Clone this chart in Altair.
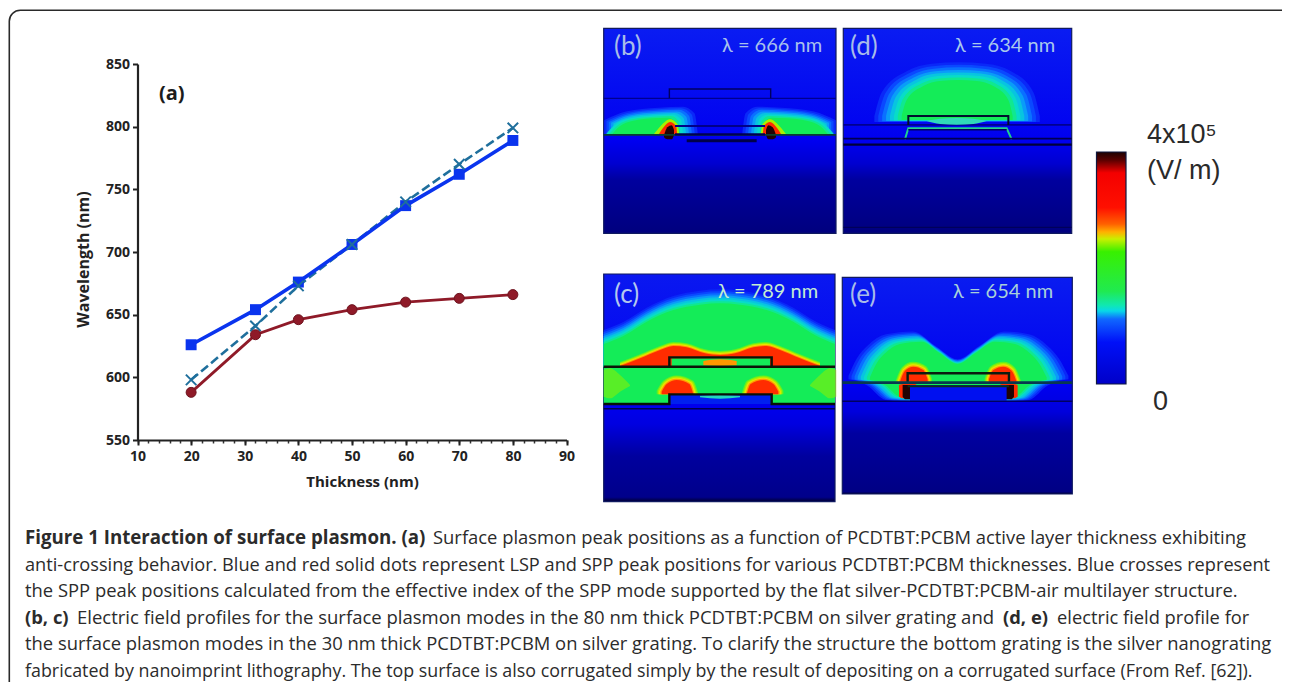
import altair as alt
import pandas as pd

# ---------- panel (a) values ----------
thick_lsp = [20, 32, 40, 50, 60, 70, 80]
lsp = [626, 654, 676, 706, 737, 762, 789]
spp = [588, 634, 646, 654, 660, 663, 666]
calc = [598, 641, 673, 706, 740, 770, 799]
x_major = [10, 20, 30, 40, 50, 60, 70, 80, 90]
x_minor = list(range(10, 91, 2))
y_major = [550, 600, 650, 700, 750, 800, 850]

# ---------- caption: (x, text, bold, font size) ----------
cap_lines = [
    [(25, "Figure 1 Interaction of surface plasmon. (a)", True, 18.7),
     (433, "Surface plasmon peak positions as a function of PCDTBT:PCBM active layer thickness exhibiting", False, 18.4)],
    [(25, "anti-crossing behavior. Blue and red solid dots represent LSP and SPP peak positions for various PCDTBT:PCBM thicknesses. Blue crosses represent", False, 18.2)],
    [(25, "the SPP peak positions calculated from the effective index of the SPP mode supported by the flat silver-PCDTBT:PCBM-air multilayer structure.", False, 18.4)],
    [(25, "(b, c)", True, 18.4),
     (77, "Electric field profiles for the surface plasmon modes in the 80 nm thick PCDTBT:PCBM on silver grating and", False, 18.5),
     (1003, "(d, e)", True, 18.4), (1057, "electric field profile for", False, 18.3)],
    [(25, "the surface plasmon modes in the 30 nm thick PCDTBT:PCBM on silver grating. To clarify the structure the bottom grating is the silver nanograting", False, 18.4)],
    [(25, "fabricated by nanoimprint lithography. The top surface is also corrugated simply by the result of depositing on a corrugated surface (From Ref. [62]).", False, 17.85)],
]
cap_baselines = [544, 570.6, 597.2, 623.8, 650.4, 677]

# ---------- colours ----------
CYAN, GREEN, LIME, ORANGE, RED, DARK = "#08dcc8", "#14ec58", "#a8f000", "#ff9800", "#ff2c00", "#200404"
COOL = ["#0a28f8", "#0a48ff", "#0a70ff", "#0a9cf8", "#08c4e0", CYAN, "#10e890", GREEN]
HOT = ["#60f020", LIME, "#f0e000", ORANGE, RED]

# crop-to-page mapping of the four field panels: (zoom x0, x1, page x0, x1, zoom y0, y1, page y0, y1)
PANELS = {
    "b": (41, 738, 603.7, 836, 25, 640, 28.3, 233.3),
    "c": (41, 735, 603.7, 835, 42, 725, 274, 501.7),
    "d": (10, 695, 843.3, 1071.7, 25, 640, 28.3, 233.3),
    "e": (22, 712, 842.3, 1072.3, 22, 672, 277.3, 494),
}
MIRROR = {"b": 390, "c": 390, "d": 355, "e": 370}


def X(p, f="x:Q"):
    a, b, c, d, *_ = PANELS[p]
    return alt.X(f, scale=alt.Scale(domain=[a, b], range=[c - 8, d - 8], nice=False, zero=False), axis=None)


def Y(p, f="y:Q"):
    *_, a, b, c, d = PANELS[p]
    return alt.Y(f, scale=alt.Scale(domain=[a, b], range=[c - 8, d - 8], nice=False, zero=False), axis=None)


def grad(stops):
    return alt.Gradient(gradient="linear", x1=0, x2=0, y1=0, y2=1,
                        stops=[alt.GradientStop(offset=o, color=c) for o, c in stops])


def blob(p, xs, tops, bots, color, opacity=1.0, both=True):
    layers = []
    sets = [(xs, tops, bots)]
    if both:
        m = MIRROR[p]
        sets.append(([2 * m - v for v in xs][::-1], tops[::-1], bots[::-1]))
    for a, t, b in sets:
        df = pd.DataFrame({"x": a, "y": t, "b": b})
        layers.append(alt.Chart(df).mark_area(color=color, opacity=opacity, interpolate="monotone").encode(
            x=X(p), y=Y(p), y2="b:Q"))
    return layers


def soft(p, xs, tops, bots, colors, cx=None, base=None, grow=0.0, off=0.0, both=True):
    out = []
    a, b, *_ = PANELS[p]
    n = len(colors)
    for i, col in enumerate(colors):
        k = n - 1 - i
        f = 1 + grow * k
        xx, tt, bb = [], [], []
        for x, t, bo in zip(xs, tops, bots):
            nx = x if cx is None else cx + (x - cx) * f
            if a <= nx <= b:
                xx.append(nx)
                tt.append((t if base is None else base + (t - base) * f) - off * k)
                bb.append(bo if base is None else base + (bo - base) * f)
        out += blob(p, xx, tt, bb, col, both=both)
    return out


def seg(p, xs, ys, color, w=1.5, opacity=1.0):
    df = pd.DataFrame({"x": xs, "y": ys})
    return [alt.Chart(df).mark_line(color=color, strokeWidth=w, opacity=opacity, interpolate="linear").encode(
        x=X(p), y=Y(p))]


def background(p, stops):
    a, b, _, _, c, d, _, _ = PANELS[p]
    df = pd.DataFrame({"x": [a], "x2": [b], "y": [c], "y2": [d]})
    return [alt.Chart(df).mark_rect(fill=grad(stops), stroke="#101a60", strokeWidth=1.2).encode(
        x=X(p), x2="x2:Q", y=Y(p), y2="y2:Q")]


def label(px, py, s, size, color="#222222", weight="normal", font="Open Sans", align="left", opacity=1.0):
    return [alt.Chart(pd.DataFrame({"a": [0]})).mark_text(
        text=s, fontSize=size, fontWeight=weight, font=font, color=color, align=align,
        baseline="alphabetic", opacity=opacity).encode(x=alt.value(px - 8), y=alt.value(py - 8))]


layers = []

# frame
layers.append(alt.Chart(pd.DataFrame({"a": [0]})).mark_rect(
    fill="transparent", stroke="#2a2a2a", strokeWidth=1.6, cornerRadius=11).encode(
    x=alt.value(1.3), x2=alt.value(1287), y=alt.value(2.3), y2=alt.value(760)))

# ---------- panel (a) ----------
sx = alt.Scale(domain=[10, 90], range=[129.5, 558.5], nice=False, zero=False)
sy = alt.Scale(domain=[550, 850], range=[432, 56], nice=False, zero=False)
df_a = pd.DataFrame({"t": thick_lsp, "lsp": lsp, "spp": spp, "calc": calc})
AF = "Open Sans"
OFF_X = -(674 - 432)
ax_x = alt.Axis(orient="bottom", values=x_major, offset=OFF_X, title="Thickness (nm)", format="d", grid=False, labelFont=AF,
                labelFontSize=14, labelFontWeight="bold", labelColor="#222", titleFont=AF, titleFontSize=15,
                titleFontWeight="bold", titleColor="#222", domainColor="#222", domainWidth=2.2, tickColor="#222",
                tickWidth=2, tickSize=5, labelPadding=4, titlePadding=11, labelOverlap=False, labelFlush=False, titleX=354)
ax_x2 = alt.Axis(orient="bottom", values=x_minor, offset=OFF_X, title=None, labels=False, domain=False, grid=False,
                 tickColor="#333", tickWidth=1.5, tickSize=3)
ax_y = alt.Axis(orient="left", values=y_major, offset=-129.5, title="Wavelength (nm)", format="d", grid=False, labelFont=AF,
                labelFontSize=14, labelFontWeight="bold", labelColor="#222", titleFont=AF, titleFontSize=16,
                titleFontWeight="bold", titleColor="#222", domainColor="#222", domainWidth=2.2, tickColor="#222",
                tickWidth=2, tickSize=5, labelPadding=3, titlePadding=14, labelOverlap=False, titleY=251)
BLUE, TEAL, MAROON = "#0a34ee", "#1f6f9c", "#8f1a28"
base = alt.Chart(df_a)
T = lambda ax=None: alt.X("t:Q", scale=sx, axis=ax)
V = lambda f, ax=None: alt.Y(f + ":Q", scale=sy, axis=ax)
layers += [
    base.mark_line(color=TEAL, strokeWidth=2.6, strokeDash=[9, 4]).encode(x=T(ax_x2), y=V("calc")),
    base.mark_line(color=BLUE, strokeWidth=3.6).encode(x=T(ax_x), y=V("lsp", ax_y)),
    base.mark_square(color=BLUE, size=120, opacity=1).encode(x=T(), y=V("lsp")),
    base.mark_point(shape="M-1,-1L1,1M-1,1L1,-1", stroke=TEAL, strokeWidth=2, size=110, opacity=1).encode(x=T(), y=V("calc")),
    base.mark_line(color=MAROON, strokeWidth=2.8).encode(x=T(), y=V("spp")),
    base.mark_circle(color=MAROON, size=100, opacity=1, stroke="#6e1520", strokeWidth=1).encode(x=T(), y=V("spp")),
]
layers += label(159, 100, "(a)", 20, weight="bold", color="#1c1c1c")

# ---------- panel (b) ----------
BG = [(0, "#0a1cf2"), (0.55, "#0000f0"), (0.66, "#0000d0"), (0.74, "#00009e"), (1, "#00007e")]
layers += background("b", BG)
b_x = [66, 90, 130, 190, 235, 256, 262]
b_t = [343, 318, 302, 295, 293, 305, 343]
layers += soft("b", b_x, b_t, [345] * 7, COOL, cx=165, base=345, grow=0.09)
layers += blob("b", [190, 212, 240, 262, 268], [345, 318, 298, 312, 345], [345] * 5, LIME)
layers += blob("b", [205, 222, 240, 258, 262], [345, 320, 306, 318, 345], [345] * 5, RED)
layers += blob("b", [222, 232, 245, 252], [345, 322, 316, 330], [352, 358, 358, 345], DARK)
layers += seg("b", [41, 738], [345, 345], "#084030", 1.8)
layers += seg("b", [41, 738], [235, 235], "#000090", 1.3)
layers += seg("b", [238, 238, 542, 542], [235, 207, 207, 235], "#000060", 1.4)
layers += seg("b", [255, 525], [318, 318], "#000088", 2)
layers += seg("b", [255, 525], [343, 343], "#000050", 2.2)
layers += seg("b", [290, 500], [362, 362], "#00004a", 3)
layers += label(614, 55, "(b)", 26, color="#a8bce8", font="Lato")
layers += label(722, 52, "\u03bb  =  666  nm", 20, color="#a8c0ec", font="Lato")

# ---------- panel (d) ----------
layers += background("d", BG)
layers += soft("d", [185, 200, 250, 300, 355, 410, 460, 505, 518],
               [288, 240, 198, 183, 180, 183, 198, 240, 288], [300] * 9, COOL, cx=352, base=288, grow=0.07, both=False)
layers += seg("d", [10, 695], [315, 315], "#000090", 1.8)
layers += blob("d", [260, 300, 350, 400, 440], [303, 296, 294, 296, 303], [303, 312, 314, 312, 303], "#30d8b8", both=False)
layers += seg("d", [205, 205, 505, 505], [315, 288, 288, 315], "#00102c", 2)
layers += seg("d", [195, 205, 500, 515], [358, 325, 325, 358], "#20d090", 2)
layers += seg("d", [205, 500], [329, 329], "#000060", 1.5)
layers += seg("d", [10, 695], [356, 356], "#000050", 1.6)
layers += seg("d", [10, 695], [374, 374], "#000038", 2.2)
layers += seg("d", [10, 695], [622, 622], "#000050", 1)
layers += label(850, 55, "(d)", 26, color="#a8bce8", font="Lato")
layers += label(955, 52, "\u03bb  =  634  nm", 20, color="#a8c8ec", font="Lato")

# ---------- panel (c) ----------
BGC = [(0, "#0a18f0"), (0.55, "#0000f2"), (0.66, "#0000e0"), (0.8, "#00009e"), (0.98, "#00008a"), (1, "#000030")]
layers += background("c", BGC)
cx = [41, 100, 170, 250, 330, 390, 450, 530, 610, 680, 735]
layers += soft("c", cx, [252, 228, 185, 150, 134, 130, 134, 150, 185, 228, 252], [320] * 11, COOL, off=6, both=False)
layers += soft("c", [90, 150, 210, 250, 290, 345, 390, 435, 490, 530, 570, 630, 690],
               [318, 295, 270, 258, 262, 280, 285, 280, 262, 258, 270, 295, 318], [320] * 13, HOT, off=3, both=False)
layers += blob("c", [41, 735], [320, 320], [432, 432], GREEN, both=False)
layers += blob("c", [41, 60, 90, 120], [330, 325, 345, 375], [410, 415, 395, 378], "#90f000", 0.55)
layers += blob("c", [245, 540], [295, 295], [318, 318], GREEN, both=False)
layers += blob("c", [340, 390, 440], [303, 298, 303], [316, 318, 316], ORANGE, both=False)
layers += soft("c", [215, 230, 260, 298, 310], [395, 372, 360, 372, 403], [403] * 5, HOT, cx=262, base=403, grow=0.08)
layers += blob("c", [238, 545], [405, 405], [432, 432], "#0020f0", both=False)
layers += blob("c", [330, 390, 450], [407, 405, 407], [412, 416, 412], "#20d8c0", both=False)
layers += seg("c", [41, 735], [320, 320], "#0c1408", 2.4)
layers += seg("c", [238, 238, 545, 545], [320, 292, 292, 320], "#0c1408", 2.4)
layers += seg("c", [41, 238, 238, 545, 545, 735], [432, 432, 403, 403, 432, 432], "#081008", 2.4)
layers += seg("c", [41, 735], [446, 446], "#000050", 1.6)
layers += label(614, 303, "(c)", 26, color="#b4c8ee", font="Lato")
layers += label(718, 298, "\u03bb  =  789  nm", 20, color="#c4ecd0", font="Lato")

# ---------- panel (e) ----------
BGE = [(0, "#0a1cf0"), (0.5, "#0000f0"), (0.62, "#0000dc"), (0.72, "#0000a0"), (0.99, "#000084"), (1, "#000030")]
layers += background("e", BGE)
layers += soft("e", [105, 125, 150, 195, 260, 315, 368, 420, 480, 540, 585, 612, 635],
               [322, 280, 250, 222, 215, 250, 282, 250, 215, 222, 250, 280, 322],
               [330, 334, 345, 380, 385, 385, 385, 385, 385, 380, 345, 334, 330], COOL, cx=368, base=340, grow=0.035, both=False)
layers += soft("e", [195, 210, 235, 265, 278], [335, 302, 290, 300, 328], [335] * 5, HOT, cx=238, base=335, grow=0.08)
layers += blob("e", [192, 205, 240, 245], [345, 342, 342, 345], [380, 385, 385, 380], RED)
layers += blob("e", [203, 212, 235], [345, 345, 345], [380, 388, 388], DARK)
layers += blob("e", [225, 515], [345, 345], [392, 392], "#0010f0", both=False)
layers += seg("e", [218, 218, 522, 522], [338, 310, 310, 338], "#0c1c10", 2.4)
layers += seg("e", [22, 712], [338, 338], "#083850", 2.6)
layers += seg("e", [218, 522], [349, 349], "#0a3018", 2)
layers += seg("e", [22, 712], [394, 394], "#000060", 1.5)
layers += label(850, 303, "(e)", 26, color="#a8bce8", font="Lato")
layers += label(953, 298, "\u03bb  =  654  nm", 20, color="#a8d0d8", font="Lato")

# ---------- colour bar ----------
cbar_lo, cbar_hi = [0], [4]
CB = [(0, "#1c0202"), (0.035, "#5a0000"), (0.09, "#f40000"), (0.24, "#ff1000"), (0.31, "#ff6000"), (0.345, "#ffb000"),
      (0.375, "#c8f000"), (0.43, "#38f000"), (0.6, "#20ea50"), (0.66, "#10e8b0"), (0.685, "#08d8e8"), (0.72, "#1068ff"),
      (0.82, "#0010f8"), (1, "#0000c8")]
layers.append(alt.Chart(pd.DataFrame({"lo": cbar_lo, "hi": cbar_hi})).mark_rect(
    fill=grad(CB), stroke="#101840", strokeWidth=1.2).encode(
    x=alt.value(1096.5 - 8), x2=alt.value(1126 - 8),
    y=alt.Y("hi:Q", scale=alt.Scale(domain=[0, 4], range=[384 - 8, 152 - 8], nice=False, zero=False), axis=None),
    y2="lo:Q"))
LF = "Liberation Sans"
layers += label(1147, 143, "4x10\u2075", 27, color="#2a2a2a", font=LF)
layers += label(1147, 179, "(V/ m)", 27, color="#2a2a2a", font=LF)
layers += label(1153, 410, "0", 27, color="#2a2a2a", font=LF)

# ---------- caption ----------
for runs, yb in zip(cap_lines, cap_baselines):
    for x0, s, bold, size in runs:
        layers += label(x0, yb, s, size, color="#2b2b2b", weight="bold" if bold else "normal", font="Open Sans")

chart = (alt.layer(*layers)
         .resolve_scale(x="independent", y="independent")
         .properties(width=1274, height=674, padding=0, background="white",
                     autosize=alt.AutoSizeParams(type="none"))
         .configure_view(stroke=None))
chart.save("out.html", embed_options={"renderer": "svg", "actions": False})
